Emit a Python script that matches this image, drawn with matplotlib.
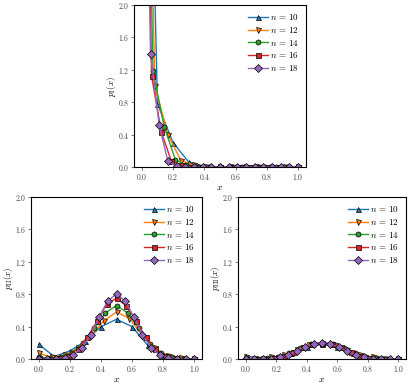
import numpy as np
import matplotlib
matplotlib.use("Agg")
import matplotlib.pyplot as plt

plt.rcParams['font.family'] = 'serif'
plt.rcParams['font.serif'] = ['cmr10', 'DejaVu Serif']
plt.rcParams['mathtext.fontset'] = 'cm'
plt.rcParams['axes.formatter.use_mathtext'] = True
plt.rcParams['font.size'] = 6

ns = [10, 12, 14, 16, 18]
markers = ['^', 'v', 'o', 's', 'D']
colors = ['#1f77b4', '#ff7f0e', '#2ca02c', '#d62728', '#9467bd']

# panel I (top)
p1 = {
    10: [8.9, 0.78, 0.30, 0.06, 0.01, 0.003, 0.0, 0.0, 0.0, 0.0, 0.0],
    12: [8.5, 1.00, 0.40, 0.08, 0.02, 0.005, 0.0, 0.0, 0.0, 0.0, 0.0, 0.0, 0.0],
    14: [8.2, 1.18, 0.50, 0.09, 0.02, 0.005, 0.0, 0.0, 0.0, 0.0, 0.0, 0.0, 0.0, 0.0, 0.0],
    16: [7.8, 1.12, 0.43, 0.08, 0.02, 0.005, 0.0, 0.0, 0.0, 0.0, 0.0, 0.0, 0.0, 0.0, 0.0, 0.0, 0.0],
    18: [7.4, 1.40, 0.52, 0.07, 0.01, 0.002, 0.0, 0.0, 0.0, 0.0, 0.0, 0.0, 0.0, 0.0, 0.0, 0.0, 0.0, 0.0, 0.0],
}

# panel II (bottom left)
p2 = {
    10: [0.18, 0.03, 0.10, 0.22, 0.40, 0.49, 0.40, 0.17, 0.04, 0.01, 0.0],
    12: [0.07, 0.02, 0.05, 0.13, 0.28, 0.47, 0.58, 0.50, 0.29, 0.13, 0.04, 0.01, 0.0],
    14: [0.02, 0.01, 0.03, 0.08, 0.20, 0.38, 0.57, 0.66, 0.57, 0.38, 0.18, 0.07, 0.02, 0.005, 0.0],
    16: [0.01, 0.0, 0.01, 0.04, 0.12, 0.27, 0.47, 0.68, 0.75, 0.66, 0.47, 0.27, 0.12, 0.04, 0.01, 0.0, 0.0],
    18: [0.005, 0.0, 0.005, 0.015, 0.05, 0.14, 0.30, 0.52, 0.72, 0.80, 0.72, 0.52, 0.30, 0.14, 0.05, 0.015, 0.005, 0.0, 0.0],
}

# panel III (bottom right)
p3 = {
    10: [0.04, 0.01, 0.03, 0.08, 0.15, 0.18, 0.15, 0.08, 0.03, 0.01, 0.0],
    12: [0.02, 0.005, 0.02, 0.05, 0.11, 0.17, 0.19, 0.17, 0.11, 0.05, 0.02, 0.005, 0.0],
    14: [0.01, 0.0, 0.01, 0.03, 0.07, 0.13, 0.18, 0.19, 0.18, 0.13, 0.07, 0.03, 0.01, 0.0, 0.0],
    16: [0.005, 0.0, 0.005, 0.01, 0.04, 0.09, 0.15, 0.19, 0.20, 0.19, 0.15, 0.09, 0.04, 0.01, 0.005, 0.0, 0.0],
    18: [0.0, 0.0, 0.0, 0.005, 0.02, 0.05, 0.10, 0.15, 0.19, 0.20, 0.19, 0.15, 0.10, 0.05, 0.02, 0.005, 0.0, 0.0, 0.0],
}

fig = plt.figure(figsize=(4.16, 3.85), dpi=100)
W, H = 416, 385
ax1 = fig.add_axes([134 / W, 1 - 167 / H, 172 / W, 162 / H])
ax2 = fig.add_axes([31 / W, 1 - 359 / H, 171 / W, 162 / H])
ax3 = fig.add_axes([238 / W, 1 - 359 / H, 168 / W, 162 / H])

for ax, data, lab in [(ax1, p1, r'$p_{\rm I}(x)$'), (ax2, p2, r'$p_{\rm II}(x)$'), (ax3, p3, r'$p_{\rm III}(x)$')]:
    for n, m, c in zip(ns, markers, colors):
        x = np.arange(n + 1) / n
        ax.plot(x, data[n], marker=m, color=c, mec='k', mew=0.5, ms=3.6, lw=1,
                label=r'$n\,=\,%d$' % n)
    ax.set_ylim(0, 2.0)
    ax.set_xlim(-0.05, 1.05)
    ax.set_yticks([0.0, 0.4, 0.8, 1.2, 1.6, 2.0])
    ax.set_xticks([0.0, 0.2, 0.4, 0.6, 0.8, 1.0])
    ax.tick_params(length=2, width=0.5, pad=1.5, labelsize=5.5, colors='#444444')
    for s in ax.spines.values():
        s.set_linewidth(0.8)
    ax.set_xlabel(r'$x$', fontsize=7, labelpad=1)
    ax.set_ylabel(lab, fontsize=6.5, labelpad=0)
    ax.legend(loc='upper right', frameon=False, fontsize=6.5, handlelength=2.2,
              handletextpad=0.2, labelspacing=0.3, borderaxespad=0.4)

fig.savefig('out.png', dpi=100)
